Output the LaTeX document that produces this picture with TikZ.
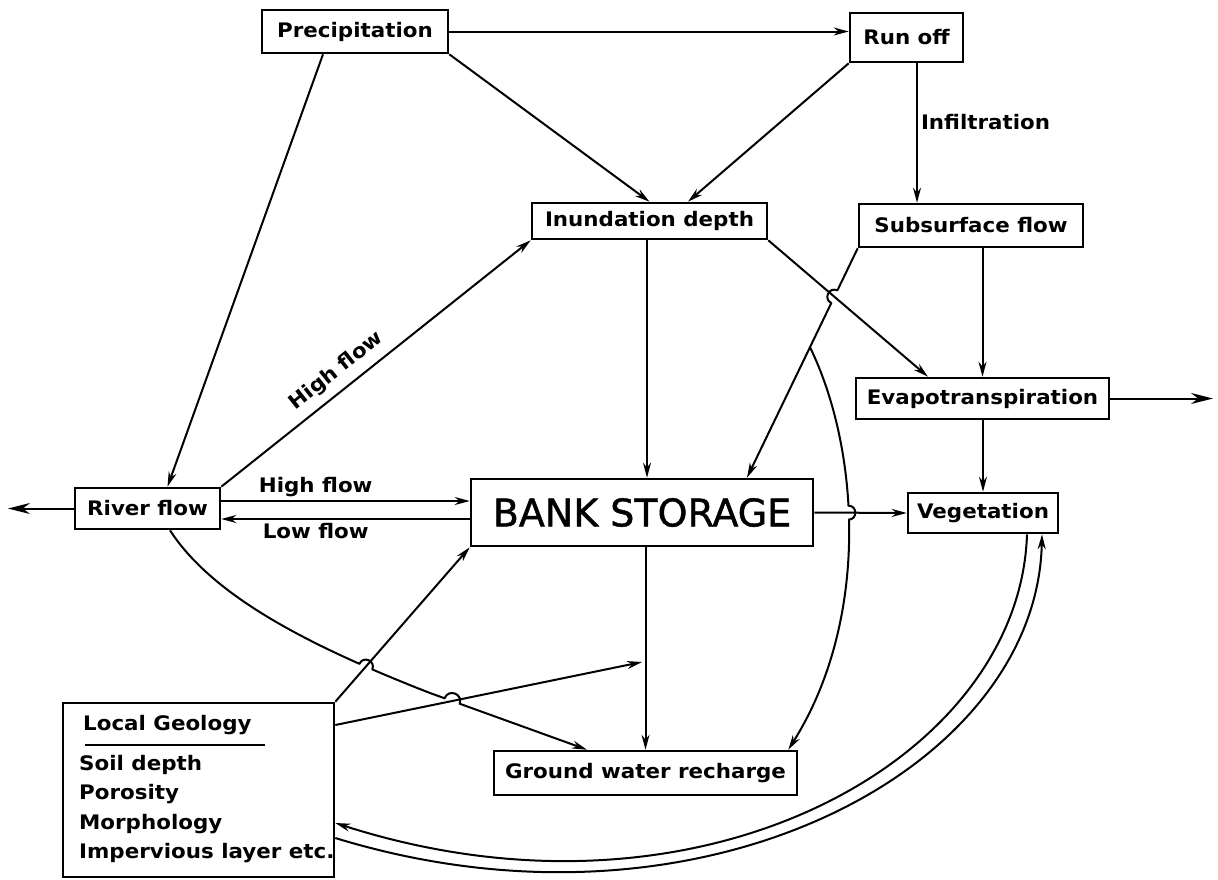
\documentclass[tikz,border=0pt]{standalone}
\usepackage{fontspec}
\setmainfont{DejaVu Sans}
\newfontfamily\lblfont[FakeStretch=1.07]{DejaVu Sans Bold}
\newfontfamily\bankfont[FakeBold=1.2]{DejaVu Sans}
\usetikzlibrary{arrows.meta,calc,intersections}
\begin{document}
\begin{tikzpicture}[x=1pt,y=-1pt,
  box/.style={draw, line width=2.6pt, inner sep=0pt, font=\lblfont\fontsize{20}{24}\selectfont},
  lbl/.style={font=\lblfont\fontsize{20}{24}\selectfont, inner sep=3pt},
  ln/.style={line width=2pt},
  arr/.style={ln, -{Stealth[length=15pt,width=8pt]}},
  arro/.style={ln, -{Stealth[length=15pt,width=8pt,open]}},
  bigarr/.style={ln, -{Stealth[length=22pt,width=11pt]}},
  hop/.style={ln}
]
\useasboundingbox (0,0) rectangle (1218,879);

% boxes
\node[box, minimum width=186pt, minimum height=43pt] (prec) at (355,31.5) {Precipitation};
\node[box, minimum width=113pt, minimum height=49pt] (runoff) at (906.5,37.5) {Run off};
\node[box, minimum width=235pt, minimum height=36pt] (ind) at (649.5,221) {Inundation depth};
\node[box, minimum width=224pt, minimum height=43pt] (sub) at (971,225.5) {Subsurface flow};
\node[box, minimum width=253pt, minimum height=41pt] (evap) at (982.5,398.5) {Evapotranspiration};
\node[box, minimum width=150pt, minimum height=40pt] (veg) at (983,513) {Vegetation};
\node[box, minimum width=145pt, minimum height=41pt] (river) at (147.5,508.5) {River flow};
\node[box, minimum width=342pt, minimum height=67pt, font=\bankfont\fontsize{38}{44}\selectfont] (bank) at (642,512.5) {BANK STORAGE};
\node[box, minimum width=303pt, minimum height=44pt] (gwr) at (645.5,773) {Ground water recharge};
\node[box, minimum width=271pt, minimum height=174pt] (lg) at (198.5,790) {};
\node[lbl, anchor=west] (lgtitle) at (80,725) {Local Geology};
\draw[line width=2.2pt] (85,745) -- (265,745);
\node[lbl, anchor=north west, align=left, font=\lblfont\fontsize{20}{29.5}\selectfont] (lgitems) at (76,752) {Soil depth\\Porosity\\Morphology\\Impervious layer etc.};

% free ends
\coordinate (eout) at (1213,398.5);
\coordinate (rout) at (8,508.5);
\coordinate (lgtip) at (642,662);

% hopping paths
\draw[arr, name path=subbank] (sub.south west) -- coordinate[pos=0.431] (br) ([xshift=105pt]bank.north);
\draw[arr, name path=subgwr] (br) .. controls (860,450) and (870,620) .. ([xshift=-10pt]gwr.north east);
\draw[arr, name path=rivgwr] ([xshift=22.5pt]river.south) .. controls (215,600) and (320,650) .. (430,693) -- ([xshift=-58.5pt]gwr.north);

% crossed paths (for intersections)
\path[name path=indevap] (ind.south east) -- ([xshift=-54.5pt]evap.north);
\path[name path=bankveg] (bank.east) -- (veg.west);
\path[name path=lgbank] (lg.north east) -- (bank.south west);
\path[name path=lgarr] (lg.east |- 0,725) -- (lgtip);

\path[name intersections={of=subbank and indevap, by=h1}];
\path[name intersections={of=subgwr and bankveg, by=h2}];
\path[name intersections={of=rivgwr and lgbank, by=h3}];
\path[name intersections={of=rivgwr and lgarr, by=h4}];

\fill[white] (h1) circle[radius=6.5];
\fill[white] (h2) circle[radius=6.5];
\fill[white] (h3) circle[radius=6.5];
\fill[white] (h4) circle[radius=7.5];

% crossed lines
\draw[arr] (ind.south east) -- ([xshift=-54.5pt]evap.north);
\draw[arro] (bank.east) -- (veg.west);
\draw[arr] (lg.north east) -- (bank.south west);
\draw[arr] (lg.east |- 0,725) -- (lgtip);

% hops
\draw[hop] ($(h1)+(295.8:7)$) .. controls +(205.8:9.3) and +(205.8:9.3) .. ($(h1)+(115.8:7)$);
\draw[hop] ($(h2)+(270:7)$) .. controls +(0:9.3) and +(0:9.3) .. ($(h2)+(90:7)$);
\draw[hop] ($(h3)+(203.6:7)$) .. controls +(293.6:9.3) and +(293.6:9.3) .. ($(h3)+(23.6:7)$);
\draw[hop] ($(h4)+(200.3:8)$) .. controls +(290.3:10.6) and +(290.3:10.6) .. ($(h4)+(20.3:8)$);

% other connectors
\draw[arro] (prec.east) -- (prec.east -| runoff.west);
\draw[arro] (prec.south east) -- (ind.north);
\draw[arr] (runoff.south west) -- ([xshift=38.5pt]ind.north);
\draw[arro] ([xshift=10.5pt]runoff.south) -- ([xshift=10.5pt]runoff.south |- sub.north) node[lbl, pos=0.42, right] {Infiltration};
\draw[arro] ([xshift=-2.5pt]ind.south) -- ([xshift=-2.5pt]ind.south |- bank.north);
\draw[arr] (sub.south -| evap.north) -- (evap.north);
\draw[bigarr] (evap.east) -- (eout);
\draw[arro] (evap.south -| veg.north) -- (veg.north);
\draw[arr] ([xshift=3.5pt]bank.south) -- ([xshift=3.5pt]bank.south |- gwr.north);
\draw[bigarr] (river.west) -- (rout);
\draw[arr] (river.east |- 0,501) -- (bank.west |- 0,501) node[lbl, pos=0.38, above] {High flow};
\draw[arro] (bank.west |- 0,519) -- (river.east |- 0,519) node[lbl, pos=0.62, below] {Low flow};
\draw[arr] (river.north east) -- (ind.south west) node[lbl, pos=0.41, above=5pt, sloped] {High flow};
\draw[arr] ([xshift=-32pt]prec.south) -- ([xshift=20pt]river.north);
\draw[arr] ([xshift=44pt]veg.south) .. controls (1020,760) and (700,940) .. (lg.east |- 0,823);
\draw[arr] (lg.east |- 0,838) .. controls (700,950) and (1037,770) .. ([xshift=59pt]veg.south);
\end{tikzpicture}
\end{document}
